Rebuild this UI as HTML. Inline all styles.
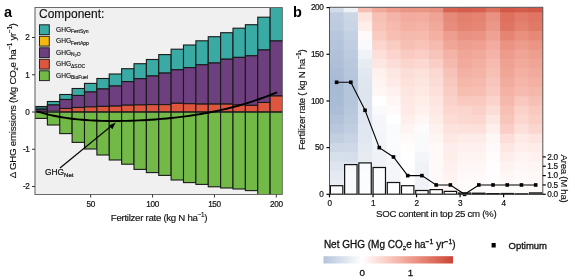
<!DOCTYPE html>
<html><head><meta charset="utf-8"><style>
html,body{margin:0;padding:0;background:#fff;width:575px;height:280px;overflow:hidden}
svg{display:block;filter:blur(0.3px)}
text{font-family:"Liberation Sans",sans-serif;fill:#111;stroke:#111;stroke-width:0.25px}
.tk{font-size:8.2px;stroke-width:0.2px;letter-spacing:-0.35px}
.tk2{font-size:9.8px;stroke-width:0.32px}
.ti{font-size:9.7px;stroke-width:0.15px;letter-spacing:-0.3px}

.ti2{font-size:10px;stroke-width:0.3px}
.ti3{font-size:9.5px;stroke-width:0.32px}
.pl{font-size:14.5px;font-weight:bold;fill:#000;stroke-width:0}
.lt{font-size:12px;stroke-width:0.15px}
.lg{font-size:6.6px;stroke-width:0.15px}
.gn{font-size:8.4px;stroke-width:0.22px}
</style></head><body>
<svg width="575" height="280" viewBox="0 0 575 280">
<defs><clipPath id="clipb"><rect x="329.5" y="7.3" width="213.3" height="187"/></clipPath><clipPath id="clipa"><rect x="35" y="7.5" width="247.5" height="187"/></clipPath><linearGradient id="cb" x1="0" x2="1" y1="0" y2="0"><stop offset="0.000" stop-color="#b3c3da"/><stop offset="0.037" stop-color="#bdcbde"/><stop offset="0.074" stop-color="#c6d2e3"/><stop offset="0.111" stop-color="#d0d9e8"/><stop offset="0.148" stop-color="#d9e1ec"/><stop offset="0.185" stop-color="#e2e8f1"/><stop offset="0.222" stop-color="#ecf0f6"/><stop offset="0.259" stop-color="#f5f7fa"/><stop offset="0.296" stop-color="#ffffff"/><stop offset="0.333" stop-color="#fff6f4"/><stop offset="0.370" stop-color="#feece8"/><stop offset="0.407" stop-color="#fde2dd"/><stop offset="0.444" stop-color="#fbd8d1"/><stop offset="0.481" stop-color="#facfc6"/><stop offset="0.519" stop-color="#f8c5bb"/><stop offset="0.556" stop-color="#f6bbb0"/><stop offset="0.593" stop-color="#f4b2a5"/><stop offset="0.630" stop-color="#f1a89a"/><stop offset="0.667" stop-color="#ee9f8f"/><stop offset="0.704" stop-color="#eb9585"/><stop offset="0.741" stop-color="#e88b7a"/><stop offset="0.778" stop-color="#e48170"/><stop offset="0.815" stop-color="#e17866"/><stop offset="0.852" stop-color="#dd6e5c"/><stop offset="0.889" stop-color="#d96452"/><stop offset="0.926" stop-color="#d45948"/><stop offset="0.963" stop-color="#d04e3f"/><stop offset="1.000" stop-color="#cb4335"/></linearGradient></defs>
<rect x="35.0" y="7.5" width="247.5" height="187.0" fill="#f0f0f0"/>
<g clip-path="url(#clipa)" stroke="#1a1a1a" stroke-width="1.1">
<rect x="35.00" y="106.5" width="12.38" height="2.80" fill="#2b6f6c"/>
<rect x="35.00" y="109.3" width="12.38" height="2.00" fill="#6e3f7e"/>
<rect x="35.00" y="112.2" width="12.38" height="6.20" fill="#72b948"/>
<rect x="47.38" y="101.5" width="12.38" height="3.50" fill="#3aaaa5"/>
<rect x="47.38" y="105.0" width="12.38" height="6.20" fill="#6e3f7e"/>
<rect x="47.38" y="112.2" width="12.38" height="12.80" fill="#72b948"/>
<rect x="59.75" y="94.5" width="12.38" height="5.00" fill="#3aaaa5"/>
<rect x="59.75" y="99.5" width="12.38" height="9.00" fill="#6e3f7e"/>
<rect x="59.75" y="108.5" width="12.38" height="3.30" fill="#df563f"/>
<rect x="59.75" y="112.2" width="12.38" height="21.40" fill="#72b948"/>
<rect x="72.12" y="88.5" width="12.38" height="7.00" fill="#3aaaa5"/>
<rect x="72.12" y="95.5" width="12.38" height="12.00" fill="#6e3f7e"/>
<rect x="72.12" y="107.5" width="12.38" height="4.30" fill="#df563f"/>
<rect x="72.12" y="112.2" width="12.38" height="30.20" fill="#72b948"/>
<rect x="84.50" y="83.4" width="12.38" height="8.60" fill="#3aaaa5"/>
<rect x="84.50" y="92.0" width="12.38" height="14.90" fill="#6e3f7e"/>
<rect x="84.50" y="106.9" width="12.38" height="4.90" fill="#df563f"/>
<rect x="84.50" y="112.2" width="12.38" height="36.80" fill="#72b948"/>
<rect x="96.88" y="78.5" width="12.38" height="10.50" fill="#3aaaa5"/>
<rect x="96.88" y="89.0" width="12.38" height="17.40" fill="#6e3f7e"/>
<rect x="96.88" y="106.4" width="12.38" height="5.40" fill="#df563f"/>
<rect x="96.88" y="112.2" width="12.38" height="42.80" fill="#72b948"/>
<rect x="109.25" y="74.0" width="12.38" height="12.00" fill="#3aaaa5"/>
<rect x="109.25" y="86.0" width="12.38" height="20.10" fill="#6e3f7e"/>
<rect x="109.25" y="106.1" width="12.38" height="5.70" fill="#df563f"/>
<rect x="109.25" y="112.2" width="12.38" height="47.80" fill="#72b948"/>
<rect x="121.62" y="68.7" width="12.38" height="12.90" fill="#3aaaa5"/>
<rect x="121.62" y="81.6" width="12.38" height="23.60" fill="#6e3f7e"/>
<rect x="121.62" y="105.2" width="12.38" height="6.60" fill="#df563f"/>
<rect x="121.62" y="112.2" width="12.38" height="52.00" fill="#72b948"/>
<rect x="134.00" y="63.7" width="12.38" height="15.00" fill="#3aaaa5"/>
<rect x="134.00" y="78.7" width="12.38" height="26.20" fill="#6e3f7e"/>
<rect x="134.00" y="104.9" width="12.38" height="6.90" fill="#df563f"/>
<rect x="134.00" y="112.2" width="12.38" height="57.20" fill="#72b948"/>
<rect x="146.38" y="59.5" width="12.38" height="16.50" fill="#3aaaa5"/>
<rect x="146.38" y="76.0" width="12.38" height="28.60" fill="#6e3f7e"/>
<rect x="146.38" y="104.6" width="12.38" height="7.20" fill="#df563f"/>
<rect x="146.38" y="112.2" width="12.38" height="60.40" fill="#72b948"/>
<rect x="158.75" y="54.6" width="12.38" height="18.50" fill="#3aaaa5"/>
<rect x="158.75" y="73.1" width="12.38" height="31.50" fill="#6e3f7e"/>
<rect x="158.75" y="104.6" width="12.38" height="7.20" fill="#df563f"/>
<rect x="158.75" y="112.2" width="12.38" height="63.20" fill="#72b948"/>
<rect x="171.12" y="49.2" width="12.38" height="20.60" fill="#3aaaa5"/>
<rect x="171.12" y="69.8" width="12.38" height="33.50" fill="#6e3f7e"/>
<rect x="171.12" y="103.3" width="12.38" height="8.50" fill="#df563f"/>
<rect x="171.12" y="112.2" width="12.38" height="67.80" fill="#72b948"/>
<rect x="183.50" y="45.0" width="12.38" height="22.60" fill="#3aaaa5"/>
<rect x="183.50" y="67.6" width="12.38" height="36.10" fill="#6e3f7e"/>
<rect x="183.50" y="103.7" width="12.38" height="8.10" fill="#df563f"/>
<rect x="183.50" y="112.2" width="12.38" height="70.40" fill="#72b948"/>
<rect x="195.88" y="40.8" width="12.38" height="24.00" fill="#3aaaa5"/>
<rect x="195.88" y="64.8" width="12.38" height="39.30" fill="#6e3f7e"/>
<rect x="195.88" y="104.1" width="12.38" height="7.70" fill="#df563f"/>
<rect x="195.88" y="112.2" width="12.38" height="72.20" fill="#72b948"/>
<rect x="208.25" y="36.7" width="12.38" height="26.30" fill="#3aaaa5"/>
<rect x="208.25" y="63.0" width="12.38" height="41.10" fill="#6e3f7e"/>
<rect x="208.25" y="104.1" width="12.38" height="7.70" fill="#df563f"/>
<rect x="208.25" y="112.2" width="12.38" height="74.60" fill="#72b948"/>
<rect x="220.62" y="32.7" width="12.38" height="26.50" fill="#3aaaa5"/>
<rect x="220.62" y="59.2" width="12.38" height="44.90" fill="#6e3f7e"/>
<rect x="220.62" y="104.1" width="12.38" height="7.70" fill="#df563f"/>
<rect x="220.62" y="112.2" width="12.38" height="75.80" fill="#72b948"/>
<rect x="233.00" y="28.2" width="12.38" height="29.20" fill="#3aaaa5"/>
<rect x="233.00" y="57.4" width="12.38" height="47.50" fill="#6e3f7e"/>
<rect x="233.00" y="104.9" width="12.38" height="6.90" fill="#df563f"/>
<rect x="233.00" y="112.2" width="12.38" height="76.80" fill="#72b948"/>
<rect x="245.38" y="24.7" width="12.38" height="31.10" fill="#3aaaa5"/>
<rect x="245.38" y="55.8" width="12.38" height="49.60" fill="#6e3f7e"/>
<rect x="245.38" y="105.4" width="12.38" height="6.40" fill="#df563f"/>
<rect x="245.38" y="112.2" width="12.38" height="78.40" fill="#72b948"/>
<rect x="257.75" y="17.2" width="12.38" height="32.80" fill="#3aaaa5"/>
<rect x="257.75" y="50.0" width="12.38" height="52.50" fill="#6e3f7e"/>
<rect x="257.75" y="102.5" width="12.38" height="9.30" fill="#df563f"/>
<rect x="257.75" y="112.2" width="12.38" height="83.80" fill="#72b948"/>
<rect x="270.12" y="7.0" width="12.38" height="34.00" fill="#3aaaa5"/>
<rect x="270.12" y="41.0" width="12.38" height="55.00" fill="#6e3f7e"/>
<rect x="270.12" y="96.0" width="12.38" height="15.80" fill="#df563f"/>
<rect x="270.12" y="112.2" width="12.38" height="83.80" fill="#72b948"/>
</g>
<path d="M37.5,111.47 L41.55,112.7 L45.59,113.81 L49.64,114.81 L53.69,115.71 L57.74,116.52 L61.78,117.24 L65.83,117.88 L69.88,118.45 L73.93,118.95 L77.97,119.38 L82.02,119.75 L86.07,120.06 L90.12,120.33 L94.16,120.54 L98.21,120.71 L102.26,120.84 L106.31,120.93 L110.35,120.98 L114.4,120.99 L118.45,120.97 L122.5,120.92 L126.54,120.84 L130.59,120.73 L134.64,120.59 L138.69,120.42 L142.73,120.22 L146.78,120.0 L150.83,119.74 L154.88,119.46 L158.92,119.15 L162.97,118.81 L167.02,118.44 L171.07,118.03 L175.11,117.6 L179.16,117.13 L183.21,116.63 L187.26,116.09 L191.3,115.52 L195.35,114.91 L199.4,114.25 L203.45,113.56 L207.49,112.83 L211.54,112.05 L215.59,111.22 L219.64,110.35 L223.68,109.43 L227.73,108.47 L231.78,107.45 L235.83,106.37 L239.87,105.25 L243.92,104.07 L247.97,102.83 L252.02,101.54 L256.06,100.18 L260.11,98.77 L264.16,97.3 L268.21,95.77 L272.25,94.18 L276.3,92.53" fill="none" stroke="#000" stroke-width="1.9" stroke-linecap="round"/>
<line x1="60" y1="168" x2="112.2" y2="125.2" stroke="#000" stroke-width="1.1"/>
<polygon points="115.7,122.4 108.9,125.4 112.3,129.3" fill="#000"/>
<path d="M282.5,7.5 H35.0 V194.5 H282.5" fill="none" stroke="#6a6a6a" stroke-width="1.1"/>
<line x1="32" y1="37.50" x2="35.0" y2="37.50" stroke="#333" stroke-width="1"/>
<text x="29.5" y="40.30" text-anchor="end" class="tk">2</text>
<line x1="32" y1="74.75" x2="35.0" y2="74.75" stroke="#333" stroke-width="1"/>
<text x="29.5" y="77.55" text-anchor="end" class="tk">1</text>
<line x1="32" y1="112.00" x2="35.0" y2="112.00" stroke="#333" stroke-width="1"/>
<text x="29.5" y="114.80" text-anchor="end" class="tk">0</text>
<line x1="32" y1="149.25" x2="35.0" y2="149.25" stroke="#333" stroke-width="1"/>
<text x="29.5" y="152.05" text-anchor="end" class="tk">-1</text>
<line x1="32" y1="186.50" x2="35.0" y2="186.50" stroke="#333" stroke-width="1"/>
<text x="29.5" y="189.30" text-anchor="end" class="tk">-2</text>
<line x1="90.69" y1="194.5" x2="90.69" y2="197.5" stroke="#333" stroke-width="1"/>
<text x="90.69" y="206.8" text-anchor="middle" class="tk">50</text>
<line x1="152.56" y1="194.5" x2="152.56" y2="197.5" stroke="#333" stroke-width="1"/>
<text x="152.56" y="206.8" text-anchor="middle" class="tk">100</text>
<line x1="214.44" y1="194.5" x2="214.44" y2="197.5" stroke="#333" stroke-width="1"/>
<text x="214.44" y="206.8" text-anchor="middle" class="tk">150</text>
<line x1="276.31" y1="194.5" x2="276.31" y2="197.5" stroke="#333" stroke-width="1"/>
<text x="276.31" y="206.8" text-anchor="middle" class="tk">200</text>
<text x="159" y="220.5" text-anchor="middle" class="ti">Fertilzer rate (kg N ha<tspan dy="-3.8" font-size="6.3">−1</tspan><tspan dy="3.8">)</tspan></text>
<text transform="translate(15.8,100.8) rotate(-90)" text-anchor="middle" class="ti" style="font-size:9.8px;letter-spacing:-0.3px">Δ GHG emissions (Mg CO<tspan dy="2" font-size="6">2</tspan><tspan dy="-2">e ha</tspan><tspan dy="-3.4" font-size="6.3">−1</tspan><tspan dy="3.4"> yr</tspan><tspan dy="-3.4" font-size="6.3">−1</tspan><tspan dy="3.4">)</tspan></text>
<text x="4" y="17" class="pl">a</text>
<text x="39" y="18" class="lt">Component:</text>
<rect x="39.5" y="24.80" width="9.8" height="9.8" fill="#3aaaa5" stroke="#222" stroke-width="1"/>
<text x="56" y="31.60" class="lg">GHG<tspan dy="1.6" font-size="5">FertSyn</tspan></text>
<rect x="39.5" y="36.30" width="9.8" height="9.8" fill="#f6b80f" stroke="#222" stroke-width="1"/>
<text x="56" y="43.10" class="lg">GHG<tspan dy="1.6" font-size="5">FertApp</tspan></text>
<rect x="39.5" y="47.80" width="9.8" height="9.8" fill="#6e3f7e" stroke="#222" stroke-width="1"/>
<text x="56" y="54.60" class="lg">GHG<tspan dy="1.6" font-size="5">N<tspan font-size="3.6" dy="1">2</tspan><tspan dy="-1">O</tspan></tspan></text>
<rect x="39.5" y="59.30" width="9.8" height="9.8" fill="#df563f" stroke="#222" stroke-width="1"/>
<text x="56" y="66.10" class="lg">GHG<tspan dy="1.6" font-size="5">ΔSOC</tspan></text>
<rect x="39.5" y="70.80" width="9.8" height="9.8" fill="#72b948" stroke="#222" stroke-width="1"/>
<text x="56" y="77.60" class="lg">GHG<tspan dy="1.6" font-size="5">BioFuel</tspan></text>
<text x="45" y="175" class="gn">GHG<tspan dy="1.8" font-size="6">Net</tspan></text>
<g clip-path="url(#clipb)">
<rect x="329.50" y="7.30" width="15.22" height="5.97" fill="#d3dce9"/>
<rect x="329.50" y="12.27" width="15.22" height="10.34" fill="#c0cde0"/>
<rect x="329.50" y="21.60" width="15.22" height="10.33" fill="#bdcbde"/>
<rect x="329.50" y="30.94" width="15.22" height="10.34" fill="#b9c7dc"/>
<rect x="329.50" y="40.27" width="15.22" height="10.34" fill="#b4c4da"/>
<rect x="329.50" y="49.61" width="15.22" height="10.34" fill="#b0c1d8"/>
<rect x="329.50" y="58.94" width="15.22" height="10.33" fill="#aebfd7"/>
<rect x="329.50" y="68.28" width="15.22" height="10.33" fill="#aabdd5"/>
<rect x="329.50" y="77.61" width="15.22" height="10.33" fill="#a8bbd4"/>
<rect x="329.50" y="86.95" width="15.22" height="10.34" fill="#a8bbd4"/>
<rect x="329.50" y="96.28" width="15.22" height="10.33" fill="#a9bcd5"/>
<rect x="329.50" y="105.62" width="15.22" height="10.34" fill="#acbdd6"/>
<rect x="329.50" y="114.95" width="15.22" height="10.33" fill="#b1c2d9"/>
<rect x="329.50" y="124.29" width="15.22" height="10.33" fill="#b9c7dc"/>
<rect x="329.50" y="133.62" width="15.22" height="10.34" fill="#c2cfe1"/>
<rect x="329.50" y="142.96" width="15.22" height="10.34" fill="#cdd7e6"/>
<rect x="329.50" y="152.29" width="15.22" height="10.33" fill="#d7dfeb"/>
<rect x="329.50" y="161.63" width="15.22" height="10.34" fill="#dfe5ef"/>
<rect x="329.50" y="170.96" width="15.22" height="10.34" fill="#e5eaf2"/>
<rect x="329.50" y="180.30" width="15.22" height="10.34" fill="#e9eef4"/>
<rect x="329.50" y="189.63" width="15.22" height="5.67" fill="#edf0f6"/>
<rect x="343.72" y="7.30" width="15.22" height="5.97" fill="#eef1f6"/>
<rect x="343.72" y="12.27" width="15.22" height="10.34" fill="#ccd7e6"/>
<rect x="343.72" y="21.60" width="15.22" height="10.33" fill="#c9d4e4"/>
<rect x="343.72" y="30.94" width="15.22" height="10.34" fill="#c4d1e2"/>
<rect x="343.72" y="40.27" width="15.22" height="10.34" fill="#c1cee1"/>
<rect x="343.72" y="49.61" width="15.22" height="10.34" fill="#bdcbde"/>
<rect x="343.72" y="58.94" width="15.22" height="10.33" fill="#bac8dd"/>
<rect x="343.72" y="68.28" width="15.22" height="10.33" fill="#b6c6db"/>
<rect x="343.72" y="77.61" width="15.22" height="10.33" fill="#b5c5db"/>
<rect x="343.72" y="86.95" width="15.22" height="10.34" fill="#b5c5db"/>
<rect x="343.72" y="96.28" width="15.22" height="10.33" fill="#b5c5db"/>
<rect x="343.72" y="105.62" width="15.22" height="10.34" fill="#b7c7dc"/>
<rect x="343.72" y="114.95" width="15.22" height="10.33" fill="#bccade"/>
<rect x="343.72" y="124.29" width="15.22" height="10.33" fill="#c1cee1"/>
<rect x="343.72" y="133.62" width="15.22" height="10.34" fill="#c8d3e4"/>
<rect x="343.72" y="142.96" width="15.22" height="10.34" fill="#ced8e7"/>
<rect x="343.72" y="152.29" width="15.22" height="10.33" fill="#d6deeb"/>
<rect x="343.72" y="161.63" width="15.22" height="10.34" fill="#dce3ee"/>
<rect x="343.72" y="170.96" width="15.22" height="10.34" fill="#e3e9f1"/>
<rect x="343.72" y="180.30" width="15.22" height="10.34" fill="#e7ecf3"/>
<rect x="343.72" y="189.63" width="15.22" height="5.67" fill="#ebeff5"/>
<rect x="357.94" y="7.30" width="15.22" height="5.97" fill="#f7bfb4"/>
<rect x="357.94" y="12.27" width="15.22" height="10.34" fill="#fde4df"/>
<rect x="357.94" y="21.60" width="15.22" height="10.33" fill="#feefeb"/>
<rect x="357.94" y="30.94" width="15.22" height="10.34" fill="#fffaf9"/>
<rect x="357.94" y="40.27" width="15.22" height="10.34" fill="#f9fafc"/>
<rect x="357.94" y="49.61" width="15.22" height="10.34" fill="#eff2f7"/>
<rect x="357.94" y="58.94" width="15.22" height="10.33" fill="#e7ecf3"/>
<rect x="357.94" y="68.28" width="15.22" height="10.33" fill="#e2e8f1"/>
<rect x="357.94" y="77.61" width="15.22" height="10.33" fill="#e0e6f0"/>
<rect x="357.94" y="86.95" width="15.22" height="10.34" fill="#dfe5ef"/>
<rect x="357.94" y="96.28" width="15.22" height="10.33" fill="#dfe5ef"/>
<rect x="357.94" y="105.62" width="15.22" height="10.34" fill="#dfe5ef"/>
<rect x="357.94" y="114.95" width="15.22" height="10.33" fill="#e0e6f0"/>
<rect x="357.94" y="124.29" width="15.22" height="10.33" fill="#e1e7f0"/>
<rect x="357.94" y="133.62" width="15.22" height="10.34" fill="#e2e8f1"/>
<rect x="357.94" y="142.96" width="15.22" height="10.34" fill="#e4e9f2"/>
<rect x="357.94" y="152.29" width="15.22" height="10.33" fill="#e7ecf3"/>
<rect x="357.94" y="161.63" width="15.22" height="10.34" fill="#eaeff5"/>
<rect x="357.94" y="170.96" width="15.22" height="10.34" fill="#eef1f6"/>
<rect x="357.94" y="180.30" width="15.22" height="10.34" fill="#f0f3f7"/>
<rect x="357.94" y="189.63" width="15.22" height="5.67" fill="#f2f5f9"/>
<rect x="372.16" y="7.30" width="15.22" height="5.97" fill="#f1a99b"/>
<rect x="372.16" y="12.27" width="15.22" height="10.34" fill="#f7c0b5"/>
<rect x="372.16" y="21.60" width="15.22" height="10.33" fill="#f8c4b9"/>
<rect x="372.16" y="30.94" width="15.22" height="10.34" fill="#f9ccc2"/>
<rect x="372.16" y="40.27" width="15.22" height="10.34" fill="#fbd5ce"/>
<rect x="372.16" y="49.61" width="15.22" height="10.34" fill="#fcdfd9"/>
<rect x="372.16" y="58.94" width="15.22" height="10.33" fill="#fde7e3"/>
<rect x="372.16" y="68.28" width="15.22" height="10.33" fill="#fef1ee"/>
<rect x="372.16" y="77.61" width="15.22" height="10.33" fill="#fff4f2"/>
<rect x="372.16" y="86.95" width="15.22" height="10.34" fill="#fff7f6"/>
<rect x="372.16" y="96.28" width="15.22" height="10.33" fill="#ffffff"/>
<rect x="372.16" y="105.62" width="15.22" height="10.34" fill="#f9fafc"/>
<rect x="372.16" y="114.95" width="15.22" height="10.33" fill="#f4f6fa"/>
<rect x="372.16" y="124.29" width="15.22" height="10.33" fill="#f4f6fa"/>
<rect x="372.16" y="133.62" width="15.22" height="10.34" fill="#f2f5f9"/>
<rect x="372.16" y="142.96" width="15.22" height="10.34" fill="#f0f3f7"/>
<rect x="372.16" y="152.29" width="15.22" height="10.33" fill="#eff2f7"/>
<rect x="372.16" y="161.63" width="15.22" height="10.34" fill="#eff2f7"/>
<rect x="372.16" y="170.96" width="15.22" height="10.34" fill="#eff2f7"/>
<rect x="372.16" y="180.30" width="15.22" height="10.34" fill="#eff2f7"/>
<rect x="372.16" y="189.63" width="15.22" height="5.67" fill="#eff2f7"/>
<rect x="386.38" y="7.30" width="15.22" height="5.97" fill="#ed9c8d"/>
<rect x="386.38" y="12.27" width="15.22" height="10.34" fill="#f4b5a9"/>
<rect x="386.38" y="21.60" width="15.22" height="10.33" fill="#f6baae"/>
<rect x="386.38" y="30.94" width="15.22" height="10.34" fill="#f7bfb4"/>
<rect x="386.38" y="40.27" width="15.22" height="10.34" fill="#f9ccc2"/>
<rect x="386.38" y="49.61" width="15.22" height="10.34" fill="#fbd5cd"/>
<rect x="386.38" y="58.94" width="15.22" height="10.33" fill="#fcddd7"/>
<rect x="386.38" y="68.28" width="15.22" height="10.33" fill="#fde7e2"/>
<rect x="386.38" y="77.61" width="15.22" height="10.33" fill="#feebe7"/>
<rect x="386.38" y="86.95" width="15.22" height="10.34" fill="#fef1ee"/>
<rect x="386.38" y="96.28" width="15.22" height="10.33" fill="#fff7f6"/>
<rect x="386.38" y="105.62" width="15.22" height="10.34" fill="#fffbfb"/>
<rect x="386.38" y="114.95" width="15.22" height="10.33" fill="#ffffff"/>
<rect x="386.38" y="124.29" width="15.22" height="10.33" fill="#fafbfc"/>
<rect x="386.38" y="133.62" width="15.22" height="10.34" fill="#fbfcfd"/>
<rect x="386.38" y="142.96" width="15.22" height="10.34" fill="#fafbfc"/>
<rect x="386.38" y="152.29" width="15.22" height="10.33" fill="#f6f8fb"/>
<rect x="386.38" y="161.63" width="15.22" height="10.34" fill="#f4f6fa"/>
<rect x="386.38" y="170.96" width="15.22" height="10.34" fill="#f4f6fa"/>
<rect x="386.38" y="180.30" width="15.22" height="10.34" fill="#f4f6fa"/>
<rect x="386.38" y="189.63" width="15.22" height="5.67" fill="#f4f6fa"/>
<rect x="400.60" y="7.30" width="15.22" height="5.97" fill="#eb9585"/>
<rect x="400.60" y="12.27" width="15.22" height="10.34" fill="#f2ab9e"/>
<rect x="400.60" y="21.60" width="15.22" height="10.33" fill="#f3b1a4"/>
<rect x="400.60" y="30.94" width="15.22" height="10.34" fill="#f5b9ad"/>
<rect x="400.60" y="40.27" width="15.22" height="10.34" fill="#f7c0b5"/>
<rect x="400.60" y="49.61" width="15.22" height="10.34" fill="#f9cac1"/>
<rect x="400.60" y="58.94" width="15.22" height="10.33" fill="#fbd4cc"/>
<rect x="400.60" y="68.28" width="15.22" height="10.33" fill="#fcded8"/>
<rect x="400.60" y="77.61" width="15.22" height="10.33" fill="#fde1db"/>
<rect x="400.60" y="86.95" width="15.22" height="10.34" fill="#fde6e1"/>
<rect x="400.60" y="96.28" width="15.22" height="10.33" fill="#fee9e5"/>
<rect x="400.60" y="105.62" width="15.22" height="10.34" fill="#feeae7"/>
<rect x="400.60" y="114.95" width="15.22" height="10.33" fill="#feefec"/>
<rect x="400.60" y="124.29" width="15.22" height="10.33" fill="#fef4f2"/>
<rect x="400.60" y="133.62" width="15.22" height="10.34" fill="#fff9f8"/>
<rect x="400.60" y="142.96" width="15.22" height="10.34" fill="#fffefd"/>
<rect x="400.60" y="152.29" width="15.22" height="10.33" fill="#ffffff"/>
<rect x="400.60" y="161.63" width="15.22" height="10.34" fill="#ffffff"/>
<rect x="400.60" y="170.96" width="15.22" height="10.34" fill="#ffffff"/>
<rect x="400.60" y="180.30" width="15.22" height="10.34" fill="#ffffff"/>
<rect x="400.60" y="189.63" width="15.22" height="5.67" fill="#ffffff"/>
<rect x="414.82" y="7.30" width="15.22" height="5.97" fill="#eb9585"/>
<rect x="414.82" y="12.27" width="15.22" height="10.34" fill="#f2ada0"/>
<rect x="414.82" y="21.60" width="15.22" height="10.33" fill="#f4b3a6"/>
<rect x="414.82" y="30.94" width="15.22" height="10.34" fill="#f6baae"/>
<rect x="414.82" y="40.27" width="15.22" height="10.34" fill="#f8c4ba"/>
<rect x="414.82" y="49.61" width="15.22" height="10.34" fill="#facec5"/>
<rect x="414.82" y="58.94" width="15.22" height="10.33" fill="#fbd8d1"/>
<rect x="414.82" y="68.28" width="15.22" height="10.33" fill="#fde1db"/>
<rect x="414.82" y="77.61" width="15.22" height="10.33" fill="#fde5e0"/>
<rect x="414.82" y="86.95" width="15.22" height="10.34" fill="#fee9e5"/>
<rect x="414.82" y="96.28" width="15.22" height="10.33" fill="#feeeea"/>
<rect x="414.82" y="105.62" width="15.22" height="10.34" fill="#fef1ee"/>
<rect x="414.82" y="114.95" width="15.22" height="10.33" fill="#fff7f5"/>
<rect x="414.82" y="124.29" width="15.22" height="10.33" fill="#fcfcfd"/>
<rect x="414.82" y="133.62" width="15.22" height="10.34" fill="#f9fafc"/>
<rect x="414.82" y="142.96" width="15.22" height="10.34" fill="#f9fafc"/>
<rect x="414.82" y="152.29" width="15.22" height="10.33" fill="#f2f5f9"/>
<rect x="414.82" y="161.63" width="15.22" height="10.34" fill="#eff2f7"/>
<rect x="414.82" y="170.96" width="15.22" height="10.34" fill="#eff2f7"/>
<rect x="414.82" y="180.30" width="15.22" height="10.34" fill="#eff2f7"/>
<rect x="414.82" y="189.63" width="15.22" height="5.67" fill="#eff2f7"/>
<rect x="429.04" y="7.30" width="15.22" height="5.97" fill="#e99080"/>
<rect x="429.04" y="12.27" width="15.22" height="10.34" fill="#efa394"/>
<rect x="429.04" y="21.60" width="15.22" height="10.33" fill="#f1a99b"/>
<rect x="429.04" y="30.94" width="15.22" height="10.34" fill="#f3b0a3"/>
<rect x="429.04" y="40.27" width="15.22" height="10.34" fill="#f6baaf"/>
<rect x="429.04" y="49.61" width="15.22" height="10.34" fill="#f8c3b9"/>
<rect x="429.04" y="58.94" width="15.22" height="10.33" fill="#facec5"/>
<rect x="429.04" y="68.28" width="15.22" height="10.33" fill="#fbd8d1"/>
<rect x="429.04" y="77.61" width="15.22" height="10.33" fill="#fcdcd6"/>
<rect x="429.04" y="86.95" width="15.22" height="10.34" fill="#fde0da"/>
<rect x="429.04" y="96.28" width="15.22" height="10.33" fill="#fde5e0"/>
<rect x="429.04" y="105.62" width="15.22" height="10.34" fill="#fee9e5"/>
<rect x="429.04" y="114.95" width="15.22" height="10.33" fill="#feece9"/>
<rect x="429.04" y="124.29" width="15.22" height="10.33" fill="#fef1ee"/>
<rect x="429.04" y="133.62" width="15.22" height="10.34" fill="#fff6f4"/>
<rect x="429.04" y="142.96" width="15.22" height="10.34" fill="#fff9f8"/>
<rect x="429.04" y="152.29" width="15.22" height="10.33" fill="#fff9f8"/>
<rect x="429.04" y="161.63" width="15.22" height="10.34" fill="#fffaf9"/>
<rect x="429.04" y="170.96" width="15.22" height="10.34" fill="#fffaf9"/>
<rect x="429.04" y="180.30" width="15.22" height="10.34" fill="#fffaf9"/>
<rect x="429.04" y="189.63" width="15.22" height="5.67" fill="#fffaf9"/>
<rect x="443.26" y="7.30" width="15.22" height="5.97" fill="#d86250"/>
<rect x="443.26" y="12.27" width="15.22" height="10.34" fill="#e78978"/>
<rect x="443.26" y="21.60" width="15.22" height="10.33" fill="#e88d7d"/>
<rect x="443.26" y="30.94" width="15.22" height="10.34" fill="#ee9d8e"/>
<rect x="443.26" y="40.27" width="15.22" height="10.34" fill="#f0a697"/>
<rect x="443.26" y="49.61" width="15.22" height="10.34" fill="#f4b3a6"/>
<rect x="443.26" y="58.94" width="15.22" height="10.33" fill="#f5b9ad"/>
<rect x="443.26" y="68.28" width="15.22" height="10.33" fill="#f7c2b8"/>
<rect x="443.26" y="77.61" width="15.22" height="10.33" fill="#f8c7be"/>
<rect x="443.26" y="86.95" width="15.22" height="10.34" fill="#f9ccc4"/>
<rect x="443.26" y="96.28" width="15.22" height="10.33" fill="#fad2c9"/>
<rect x="443.26" y="105.62" width="15.22" height="10.34" fill="#fbd7cf"/>
<rect x="443.26" y="114.95" width="15.22" height="10.33" fill="#fcdcd5"/>
<rect x="443.26" y="124.29" width="15.22" height="10.33" fill="#fde3de"/>
<rect x="443.26" y="133.62" width="15.22" height="10.34" fill="#fde8e4"/>
<rect x="443.26" y="142.96" width="15.22" height="10.34" fill="#feeeeb"/>
<rect x="443.26" y="152.29" width="15.22" height="10.33" fill="#feeeea"/>
<rect x="443.26" y="161.63" width="15.22" height="10.34" fill="#fef0ee"/>
<rect x="443.26" y="170.96" width="15.22" height="10.34" fill="#fef3f1"/>
<rect x="443.26" y="180.30" width="15.22" height="10.34" fill="#fff5f4"/>
<rect x="443.26" y="189.63" width="15.22" height="5.67" fill="#fff5f4"/>
<rect x="457.48" y="7.30" width="15.22" height="5.97" fill="#d55b4a"/>
<rect x="457.48" y="12.27" width="15.22" height="10.34" fill="#e37f6d"/>
<rect x="457.48" y="21.60" width="15.22" height="10.33" fill="#e58371"/>
<rect x="457.48" y="30.94" width="15.22" height="10.34" fill="#ea9282"/>
<rect x="457.48" y="40.27" width="15.22" height="10.34" fill="#ee9e8e"/>
<rect x="457.48" y="49.61" width="15.22" height="10.34" fill="#f0a697"/>
<rect x="457.48" y="58.94" width="15.22" height="10.33" fill="#f1aa9c"/>
<rect x="457.48" y="68.28" width="15.22" height="10.33" fill="#f3b1a4"/>
<rect x="457.48" y="77.61" width="15.22" height="10.33" fill="#f5b7aa"/>
<rect x="457.48" y="86.95" width="15.22" height="10.34" fill="#f6bdb1"/>
<rect x="457.48" y="96.28" width="15.22" height="10.33" fill="#f9c9c0"/>
<rect x="457.48" y="105.62" width="15.22" height="10.34" fill="#fbd6ce"/>
<rect x="457.48" y="114.95" width="15.22" height="10.33" fill="#fbd8d1"/>
<rect x="457.48" y="124.29" width="15.22" height="10.33" fill="#fde2dc"/>
<rect x="457.48" y="133.62" width="15.22" height="10.34" fill="#feece8"/>
<rect x="457.48" y="142.96" width="15.22" height="10.34" fill="#fef0ee"/>
<rect x="457.48" y="152.29" width="15.22" height="10.33" fill="#fef4f2"/>
<rect x="457.48" y="161.63" width="15.22" height="10.34" fill="#fff7f6"/>
<rect x="457.48" y="170.96" width="15.22" height="10.34" fill="#fffaf9"/>
<rect x="457.48" y="180.30" width="15.22" height="10.34" fill="#fffbfa"/>
<rect x="457.48" y="189.63" width="15.22" height="5.67" fill="#fffcfb"/>
<rect x="471.70" y="7.30" width="15.22" height="5.97" fill="#d7604e"/>
<rect x="471.70" y="12.27" width="15.22" height="10.34" fill="#e58371"/>
<rect x="471.70" y="21.60" width="15.22" height="10.33" fill="#e68675"/>
<rect x="471.70" y="30.94" width="15.22" height="10.34" fill="#eb9484"/>
<rect x="471.70" y="40.27" width="15.22" height="10.34" fill="#efa091"/>
<rect x="471.70" y="49.61" width="15.22" height="10.34" fill="#f1a99b"/>
<rect x="471.70" y="58.94" width="15.22" height="10.33" fill="#f3afa2"/>
<rect x="471.70" y="68.28" width="15.22" height="10.33" fill="#f4b4a7"/>
<rect x="471.70" y="77.61" width="15.22" height="10.33" fill="#f5b9ad"/>
<rect x="471.70" y="86.95" width="15.22" height="10.34" fill="#f7bfb4"/>
<rect x="471.70" y="96.28" width="15.22" height="10.33" fill="#f9c9c0"/>
<rect x="471.70" y="105.62" width="15.22" height="10.34" fill="#fad1c9"/>
<rect x="471.70" y="114.95" width="15.22" height="10.33" fill="#fbd7d0"/>
<rect x="471.70" y="124.29" width="15.22" height="10.33" fill="#fde0da"/>
<rect x="471.70" y="133.62" width="15.22" height="10.34" fill="#feece8"/>
<rect x="471.70" y="142.96" width="15.22" height="10.34" fill="#fef0ee"/>
<rect x="471.70" y="152.29" width="15.22" height="10.33" fill="#fef4f2"/>
<rect x="471.70" y="161.63" width="15.22" height="10.34" fill="#fff7f6"/>
<rect x="471.70" y="170.96" width="15.22" height="10.34" fill="#fffaf9"/>
<rect x="471.70" y="180.30" width="15.22" height="10.34" fill="#fffbfa"/>
<rect x="471.70" y="189.63" width="15.22" height="5.67" fill="#fffcfb"/>
<rect x="485.92" y="7.30" width="15.22" height="5.97" fill="#de705e"/>
<rect x="485.92" y="12.27" width="15.22" height="10.34" fill="#ea9282"/>
<rect x="485.92" y="21.60" width="15.22" height="10.33" fill="#ec9888"/>
<rect x="485.92" y="30.94" width="15.22" height="10.34" fill="#efa293"/>
<rect x="485.92" y="40.27" width="15.22" height="10.34" fill="#f2ab9e"/>
<rect x="485.92" y="49.61" width="15.22" height="10.34" fill="#f4b3a6"/>
<rect x="485.92" y="58.94" width="15.22" height="10.33" fill="#f6baae"/>
<rect x="485.92" y="68.28" width="15.22" height="10.33" fill="#f7c0b5"/>
<rect x="485.92" y="77.61" width="15.22" height="10.33" fill="#f8c6bc"/>
<rect x="485.92" y="86.95" width="15.22" height="10.34" fill="#f9cac1"/>
<rect x="485.92" y="96.28" width="15.22" height="10.33" fill="#fbd3cb"/>
<rect x="485.92" y="105.62" width="15.22" height="10.34" fill="#fcdcd6"/>
<rect x="485.92" y="114.95" width="15.22" height="10.33" fill="#fde7e2"/>
<rect x="485.92" y="124.29" width="15.22" height="10.33" fill="#feefec"/>
<rect x="485.92" y="133.62" width="15.22" height="10.34" fill="#fff7f6"/>
<rect x="485.92" y="142.96" width="15.22" height="10.34" fill="#fffaf9"/>
<rect x="485.92" y="152.29" width="15.22" height="10.33" fill="#fffcfb"/>
<rect x="485.92" y="161.63" width="15.22" height="10.34" fill="#fffdfd"/>
<rect x="485.92" y="170.96" width="15.22" height="10.34" fill="#fffdfd"/>
<rect x="485.92" y="180.30" width="15.22" height="10.34" fill="#fffdfd"/>
<rect x="485.92" y="189.63" width="15.22" height="5.67" fill="#fffdfd"/>
<rect x="500.14" y="7.30" width="15.22" height="5.97" fill="#d45847"/>
<rect x="500.14" y="12.27" width="15.22" height="10.34" fill="#de705e"/>
<rect x="500.14" y="21.60" width="15.22" height="10.33" fill="#df7462"/>
<rect x="500.14" y="30.94" width="15.22" height="10.34" fill="#e58473"/>
<rect x="500.14" y="40.27" width="15.22" height="10.34" fill="#ea9383"/>
<rect x="500.14" y="49.61" width="15.22" height="10.34" fill="#ed9b8b"/>
<rect x="500.14" y="58.94" width="15.22" height="10.33" fill="#efa192"/>
<rect x="500.14" y="68.28" width="15.22" height="10.33" fill="#f0a697"/>
<rect x="500.14" y="77.61" width="15.22" height="10.33" fill="#f2ac9e"/>
<rect x="500.14" y="86.95" width="15.22" height="10.34" fill="#f4b2a5"/>
<rect x="500.14" y="96.28" width="15.22" height="10.33" fill="#f5b8ac"/>
<rect x="500.14" y="105.62" width="15.22" height="10.34" fill="#f7c0b5"/>
<rect x="500.14" y="114.95" width="15.22" height="10.33" fill="#f8c5ba"/>
<rect x="500.14" y="124.29" width="15.22" height="10.33" fill="#facec6"/>
<rect x="500.14" y="133.62" width="15.22" height="10.34" fill="#fcddd7"/>
<rect x="500.14" y="142.96" width="15.22" height="10.34" fill="#fde7e2"/>
<rect x="500.14" y="152.29" width="15.22" height="10.33" fill="#feeeea"/>
<rect x="500.14" y="161.63" width="15.22" height="10.34" fill="#fef3f1"/>
<rect x="500.14" y="170.96" width="15.22" height="10.34" fill="#fff7f6"/>
<rect x="500.14" y="180.30" width="15.22" height="10.34" fill="#fffaf9"/>
<rect x="500.14" y="189.63" width="15.22" height="5.67" fill="#fffbfa"/>
<rect x="514.36" y="7.30" width="15.22" height="5.97" fill="#d55b4a"/>
<rect x="514.36" y="12.27" width="15.22" height="10.34" fill="#e27b69"/>
<rect x="514.36" y="21.60" width="15.22" height="10.33" fill="#e4816f"/>
<rect x="514.36" y="30.94" width="15.22" height="10.34" fill="#e99080"/>
<rect x="514.36" y="40.27" width="15.22" height="10.34" fill="#ed9c8c"/>
<rect x="514.36" y="49.61" width="15.22" height="10.34" fill="#f0a495"/>
<rect x="514.36" y="58.94" width="15.22" height="10.33" fill="#f1aa9c"/>
<rect x="514.36" y="68.28" width="15.22" height="10.33" fill="#f3b0a3"/>
<rect x="514.36" y="77.61" width="15.22" height="10.33" fill="#f5b6a9"/>
<rect x="514.36" y="86.95" width="15.22" height="10.34" fill="#f6bbb0"/>
<rect x="514.36" y="96.28" width="15.22" height="10.33" fill="#f8c7bd"/>
<rect x="514.36" y="105.62" width="15.22" height="10.34" fill="#fbd2ca"/>
<rect x="514.36" y="114.95" width="15.22" height="10.33" fill="#fbd7d0"/>
<rect x="514.36" y="124.29" width="15.22" height="10.33" fill="#fcdfd9"/>
<rect x="514.36" y="133.62" width="15.22" height="10.34" fill="#feeae6"/>
<rect x="514.36" y="142.96" width="15.22" height="10.34" fill="#feefec"/>
<rect x="514.36" y="152.29" width="15.22" height="10.33" fill="#fef4f2"/>
<rect x="514.36" y="161.63" width="15.22" height="10.34" fill="#fff7f6"/>
<rect x="514.36" y="170.96" width="15.22" height="10.34" fill="#fffaf9"/>
<rect x="514.36" y="180.30" width="15.22" height="10.34" fill="#fffbfa"/>
<rect x="514.36" y="189.63" width="15.22" height="5.67" fill="#fffcfb"/>
<rect x="528.58" y="7.30" width="15.22" height="5.97" fill="#d45847"/>
<rect x="528.58" y="12.27" width="15.22" height="10.34" fill="#e07563"/>
<rect x="528.58" y="21.60" width="15.22" height="10.33" fill="#e17967"/>
<rect x="528.58" y="30.94" width="15.22" height="10.34" fill="#e78978"/>
<rect x="528.58" y="40.27" width="15.22" height="10.34" fill="#eb9585"/>
<rect x="528.58" y="49.61" width="15.22" height="10.34" fill="#ee9e8e"/>
<rect x="528.58" y="58.94" width="15.22" height="10.33" fill="#f0a495"/>
<rect x="528.58" y="68.28" width="15.22" height="10.33" fill="#f1aa9c"/>
<rect x="528.58" y="77.61" width="15.22" height="10.33" fill="#f3b0a3"/>
<rect x="528.58" y="86.95" width="15.22" height="10.34" fill="#f5b7aa"/>
<rect x="528.58" y="96.28" width="15.22" height="10.33" fill="#f7c0b6"/>
<rect x="528.58" y="105.62" width="15.22" height="10.34" fill="#f9c9c0"/>
<rect x="528.58" y="114.95" width="15.22" height="10.33" fill="#facdc5"/>
<rect x="528.58" y="124.29" width="15.22" height="10.33" fill="#fbd6cf"/>
<rect x="528.58" y="133.62" width="15.22" height="10.34" fill="#fde4df"/>
<rect x="528.58" y="142.96" width="15.22" height="10.34" fill="#feece8"/>
<rect x="528.58" y="152.29" width="15.22" height="10.33" fill="#fef1ef"/>
<rect x="528.58" y="161.63" width="15.22" height="10.34" fill="#fff5f4"/>
<rect x="528.58" y="170.96" width="15.22" height="10.34" fill="#fff8f7"/>
<rect x="528.58" y="180.30" width="15.22" height="10.34" fill="#fffaf9"/>
<rect x="528.58" y="189.63" width="15.22" height="5.67" fill="#fffbfa"/>
</g>
<rect x="330.40" y="185.7" width="12.42" height="8.60" fill="rgba(255,255,255,0.75)" stroke="#111" stroke-width="1.2"/>
<rect x="344.62" y="164.6" width="12.42" height="29.70" fill="rgba(255,255,255,0.75)" stroke="#111" stroke-width="1.2"/>
<rect x="358.84" y="162.9" width="12.42" height="31.40" fill="rgba(255,255,255,0.75)" stroke="#111" stroke-width="1.2"/>
<rect x="373.06" y="167.5" width="12.42" height="26.80" fill="rgba(255,255,255,0.75)" stroke="#111" stroke-width="1.2"/>
<rect x="387.28" y="182.5" width="12.42" height="11.80" fill="rgba(255,255,255,0.75)" stroke="#111" stroke-width="1.2"/>
<rect x="401.50" y="185.7" width="12.42" height="8.60" fill="rgba(255,255,255,0.75)" stroke="#111" stroke-width="1.2"/>
<rect x="415.72" y="190.5" width="12.42" height="3.80" fill="rgba(255,255,255,0.75)" stroke="#111" stroke-width="1.2"/>
<rect x="429.94" y="189.6" width="12.42" height="4.70" fill="rgba(255,255,255,0.75)" stroke="#111" stroke-width="1.2"/>
<rect x="444.16" y="191.4" width="12.42" height="2.90" fill="rgba(255,255,255,0.75)" stroke="#111" stroke-width="1.2"/>
<rect x="458.38" y="193.0" width="12.42" height="1.30" fill="rgba(255,255,255,0.75)" stroke="#111" stroke-width="1.2"/>
<rect x="472.60" y="193.2" width="12.42" height="1.10" fill="rgba(255,255,255,0.75)" stroke="#111" stroke-width="1.2"/>
<rect x="486.82" y="193.6" width="12.42" height="0.70" fill="rgba(255,255,255,0.75)" stroke="#111" stroke-width="1.2"/>
<rect x="501.04" y="193.5" width="12.42" height="0.80" fill="rgba(255,255,255,0.75)" stroke="#111" stroke-width="1.2"/>
<rect x="515.26" y="193.8" width="12.42" height="0.50" fill="rgba(255,255,255,0.75)" stroke="#111" stroke-width="1.2"/>
<rect x="529.48" y="192.9" width="12.42" height="1.40" fill="rgba(255,255,255,0.75)" stroke="#111" stroke-width="1.2"/>
<polyline points="336.61,82.28 350.83,82.28 365.05,110.29 379.27,147.62 393.49,156.96 407.71,175.63 421.93,175.63 436.15,184.97 450.37,184.97 464.59,194.30 478.81,184.97 493.03,184.97 507.25,184.97 521.47,184.97 535.69,184.97" fill="none" stroke="#000" stroke-width="1.1"/>
<rect x="334.81" y="80.48" width="3.6" height="3.6" fill="#000"/>
<rect x="349.03" y="80.48" width="3.6" height="3.6" fill="#000"/>
<rect x="363.25" y="108.49" width="3.6" height="3.6" fill="#000"/>
<rect x="377.47" y="145.82" width="3.6" height="3.6" fill="#000"/>
<rect x="391.69" y="155.16" width="3.6" height="3.6" fill="#000"/>
<rect x="405.91" y="173.83" width="3.6" height="3.6" fill="#000"/>
<rect x="420.13" y="173.83" width="3.6" height="3.6" fill="#000"/>
<rect x="434.35" y="183.16" width="3.6" height="3.6" fill="#000"/>
<rect x="448.57" y="183.16" width="3.6" height="3.6" fill="#000"/>
<rect x="462.79" y="192.50" width="3.6" height="3.6" fill="#000"/>
<rect x="477.01" y="183.16" width="3.6" height="3.6" fill="#000"/>
<rect x="491.23" y="183.16" width="3.6" height="3.6" fill="#000"/>
<rect x="505.45" y="183.16" width="3.6" height="3.6" fill="#000"/>
<rect x="519.67" y="183.16" width="3.6" height="3.6" fill="#000"/>
<rect x="533.89" y="183.16" width="3.6" height="3.6" fill="#000"/>
<rect x="329.5" y="7.3" width="213.29999999999995" height="187.0" fill="none" stroke="#555" stroke-width="1"/>
<line x1="326.5" y1="194.30" x2="329.5" y2="194.30" stroke="#000" stroke-width="1.2"/>
<text x="323.5" y="197.00" text-anchor="end" class="tk">0</text>
<line x1="326.5" y1="147.62" x2="329.5" y2="147.62" stroke="#000" stroke-width="1.2"/>
<text x="323.5" y="150.32" text-anchor="end" class="tk">50</text>
<line x1="326.5" y1="100.95" x2="329.5" y2="100.95" stroke="#000" stroke-width="1.2"/>
<text x="323.5" y="103.65" text-anchor="end" class="tk">100</text>
<line x1="326.5" y1="54.28" x2="329.5" y2="54.28" stroke="#000" stroke-width="1.2"/>
<text x="323.5" y="56.98" text-anchor="end" class="tk">150</text>
<line x1="326.5" y1="7.60" x2="329.5" y2="7.60" stroke="#000" stroke-width="1.2"/>
<text x="323.5" y="10.30" text-anchor="end" class="tk">200</text>
<line x1="329.50" y1="194.3" x2="329.50" y2="197.3" stroke="#000" stroke-width="1.2"/>
<text x="329.50" y="206" text-anchor="middle" class="tk">0</text>
<line x1="373.03" y1="194.3" x2="373.03" y2="197.3" stroke="#000" stroke-width="1.2"/>
<text x="373.03" y="206" text-anchor="middle" class="tk">1</text>
<line x1="416.56" y1="194.3" x2="416.56" y2="197.3" stroke="#000" stroke-width="1.2"/>
<text x="416.56" y="206" text-anchor="middle" class="tk">2</text>
<line x1="460.09" y1="194.3" x2="460.09" y2="197.3" stroke="#000" stroke-width="1.2"/>
<text x="460.09" y="206" text-anchor="middle" class="tk">3</text>
<line x1="503.62" y1="194.3" x2="503.62" y2="197.3" stroke="#000" stroke-width="1.2"/>
<text x="503.62" y="206" text-anchor="middle" class="tk">4</text>
<line x1="542.8" y1="194.30" x2="545.8" y2="194.30" stroke="#000" stroke-width="1.2"/>
<text x="547.3" y="197.00" class="tk">0.0</text>
<line x1="542.8" y1="184.95" x2="545.8" y2="184.95" stroke="#000" stroke-width="1.2"/>
<text x="547.3" y="187.65" class="tk">0.5</text>
<line x1="542.8" y1="175.60" x2="545.8" y2="175.60" stroke="#000" stroke-width="1.2"/>
<text x="547.3" y="178.30" class="tk">1.0</text>
<line x1="542.8" y1="166.25" x2="545.8" y2="166.25" stroke="#000" stroke-width="1.2"/>
<text x="547.3" y="168.95" class="tk">1.5</text>
<line x1="542.8" y1="156.90" x2="545.8" y2="156.90" stroke="#000" stroke-width="1.2"/>
<text x="547.3" y="159.60" class="tk">2.0</text>
<text transform="translate(561,178.5) rotate(90)" text-anchor="middle" class="ti">Area (M ha)</text>
<text x="436.2" y="217" text-anchor="middle" class="ti">SOC content in top 25 cm (%)</text>
<text transform="translate(304.5,99.8) rotate(-90)" text-anchor="middle" class="ti">Fertilizer rate ( kg N ha<tspan dy="-3.8" font-size="6.3">−1</tspan><tspan dy="3.8">)</tspan></text>
<text x="293" y="16.6" class="pl">b</text>
<text x="323.9" y="247.9" class="ti2">Net GHG (Mg CO<tspan dy="2" font-size="6">2</tspan><tspan dy="-2">e ha</tspan><tspan dy="-3.8" font-size="6.8">−1</tspan><tspan dy="3.8"> yr</tspan><tspan dy="-3.8" font-size="6.8">−1</tspan><tspan dy="3.8">)</tspan></text>
<rect x="323.5" y="256.2" width="129.5" height="7.3" fill="url(#cb)"/>
<text x="362.3" y="275.5" text-anchor="middle" class="tk2">0</text>
<text x="410.6" y="275.5" text-anchor="middle" class="tk2">1</text>
<rect x="491.6" y="243" width="4.1" height="4.5" fill="#000"/>
<text x="508.5" y="248.5" class="ti3">Optimum</text>
</svg>
</body></html>
